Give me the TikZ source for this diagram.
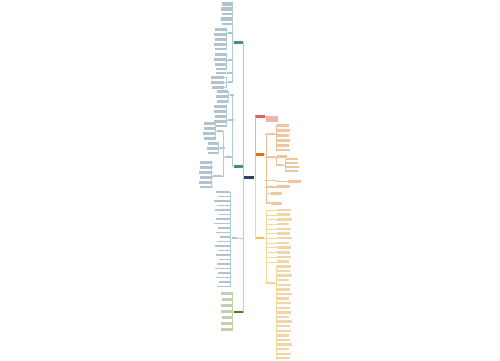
\documentclass[tikz,border=0pt]{standalone}
\definecolor{navy}{RGB}{44,68,98}
\definecolor{tealN}{RGB}{70,140,142}
\definecolor{greenN}{RGB}{78,118,36}
\definecolor{redN}{RGB}{228,92,92}
\definecolor{orangeN}{RGB}{214,116,34}
\definecolor{yellowN}{RGB}{238,196,76}
\definecolor{tealL}{RGB}{172,208,210}
\definecolor{greenL}{RGB}{190,214,160}
\definecolor{redL}{RGB}{240,170,170}
\definecolor{orangeL}{RGB}{240,192,146}
\definecolor{yellowL}{RGB}{240,218,150}
\definecolor{tealT}{RGB}{178,194,206}
\definecolor{greenT}{RGB}{192,208,176}
\definecolor{redT}{RGB}{236,182,172}
\definecolor{orangeT}{RGB}{238,198,160}
\definecolor{yellowT}{RGB}{238,214,168}
\tikzset{
  mm/.style={inner sep=0pt, minimum height=2.6pt, draw=none},
  lf/.style={fill=#1, inner sep=0pt, draw=none},
  subn/.style={fill=#1, inner sep=0pt, draw=none, minimum height=1.6pt},
  lk/.style={draw=#1, line width=0.35pt},
}
% parent, prefix, x-right, leaf colour, line colour, list y/w/h
\newcommand\mmL[6]{\foreach \yy/\ww/\hh [count=\i] in {#6}{%
  \node[lf=#4, minimum width=\ww pt, minimum height=\hh pt, anchor=east] (#2-\i) at (#3,\yy) {};
  \draw[lk=#5] (#1.west) -- ++(-1.5,0) |- (#2-\i.east);}}
\newcommand\mmR[6]{\foreach \yy/\ww/\hh [count=\i] in {#6}{%
  \node[lf=#4, minimum width=\ww pt, minimum height=\hh pt, anchor=west] (#2-\i) at (#3,\yy) {};
  \draw[lk=#5] (#1.east) -- ++(1.5,0) |- (#2-\i.west);}}
\begin{document}
\begin{tikzpicture}[x=1pt,y=-1pt]
\fill[white] (0,0) rectangle (500,360);
\useasboundingbox (0,0) rectangle (500,360);
% main nodes
\node[mm, fill=navy, minimum width=10pt, minimum height=3pt] (C) at (249,177) {};
\node[mm, fill=tealN, minimum width=9pt] (T1) at (238.5,42.5) {};
\node[mm, fill=tealN, minimum width=9pt] (T2) at (238,166.5) {};
\node[subn=tealT, minimum width=5pt] (P) at (234,238) {};
\node[mm, fill=greenN, minimum width=9pt] (G) at (238,312) {};
\node[mm, fill=redN, minimum width=10pt] (R) at (260,116.5) {};
\node[mm, fill=orangeN, minimum width=9pt] (O) at (259.5,154.5) {};
\node[mm, fill=yellowN, minimum width=9pt] (Y) at (259.5,238) {};
% trunks
\draw[lk=tealL] (C.west) -- ++(-1,0) |- (T1.east);
\draw[lk=tealL] (C.west) -- ++(-1,0) |- (T2.east);
\draw[lk=tealL] (C.west) -- ++(-1,0) |- (P.east);
\draw[lk=greenL] (C.west) -- ++(-1,0) |- (G.east);
\draw[lk=redL] (C.east) -- ++(1,0) |- (R.west);
\draw[lk=orangeL] (C.east) -- ++(1,0) |- (O.west);
\draw[lk=yellowL] (C.east) -- ++(1,0) |- (Y.west);
% ---- T1 branch
\mmL{T1}{ta}{233}{tealT}{tealL}{4/11/3.5, 9/12/3.5, 14/11/2, 19/12/3.5, 24/11/2}
\node[subn=tealT, minimum width=4pt] (T1a) at (230,33) {};
\node[subn=tealT, minimum width=4pt] (T1b) at (230,60) {};
\node[subn=tealT, minimum width=6pt] (T1c) at (230,73) {};
\node[subn=tealT, minimum width=5pt] (T1d) at (230.5,82) {};
\foreach \s in {T1a,T1b,T1c,T1d} \draw[lk=tealL] (T1.west) -- ++(-1.5,0) |- (\s.east);
\mmL{T1a}{tb}{227}{tealT}{tealL}{29/12/3, 34/13/3, 39/12/3, 44/13/3, 49/12/2}
\mmL{T1b}{tc}{227}{tealT}{tealL}{54/12/3, 59/13/3, 64/12/3, 69/11/2}
\mmL{T1c}{td}{226}{tealT}{tealL}{73/10/1.6}
\mmL{T1d}{te}{224}{tealT}{tealL}{77.5/13/2.5, 82/13/3, 87/12/3}
% ---- T2 branch
\node[subn=tealT, minimum width=4pt] (T2a) at (231.5,95) {};
\node[subn=tealT, minimum width=6pt] (T2b) at (231,120) {};
\node[subn=tealT, minimum width=8pt] (T2s) at (229,157) {};
\foreach \s in {T2a,T2b,T2s} \draw[lk=tealL] (T2.west) -- ++(-1.5,0) |- (\s.east);
\mmL{T2a}{ua}{228}{tealT}{tealL}{91/11/3, 96/12/3, 101/11/3}
\mmL{T2b}{ub}{227}{tealT}{tealL}{106/13/3, 111/13/3, 116/12/3, 121/13/3, 126/12/2}
\node[subn=tealT, minimum width=6pt] (T2c) at (220,131) {};
\node[subn=tealT, minimum width=5pt] (T2d) at (222.5,148) {};
\node[subn=tealT, minimum width=9pt] (T2e) at (217.5,176) {};
\foreach \s in {T2c,T2d,T2e} \draw[lk=tealL] (T2s.west) -- ++(-1.5,0) |- (\s.east);
\mmL{T2c}{uc}{216}{tealT}{tealL}{123/12/3, 128/12/3, 133/13/3, 138/12/3}
\mmL{T2d}{ud}{219}{tealT}{tealL}{143/11/3, 148/12/3, 153/11/2}
\mmL{T2e}{ue}{212.5}{tealT}{tealL}{162/12/3, 167/12/3, 172/13/3, 177/12/3, 182/13/3, 187/12/2}
% ---- P branch (single-line column)
\mmL{P}{pa}{230}{tealT}{tealL}{192/14/1.8, 196.5/12/1.8, 201/16/1.8, 205.5/13/1.8, 210/15/1.8, 214.5/11/1.8, 219/14/1.8, 223.5/16/1.8, 228/12/1.8, 232.5/14/1.8, 237/10/1.8, 241.5/13/1.8, 246/15/1.8, 250.5/12/1.8, 255/14/1.8, 259.5/11/1.8, 264/13/1.8, 268.5/15/1.8, 273/12/1.8, 277.5/14/1.8, 282/11/1.8, 286.5/13/1.8}
% ---- G branch
\mmL{G}{ga}{233}{greenT}{greenL}{293/12/3, 299/11/3, 305/12/3, 311/12/3, 317/11/3, 323/12/3, 329/12/3}
% ---- R branch
\mmR{R}{ra}{266}{redT}{redL}{119/12/5.5}
% ---- O branch
\node[subn=orangeT, minimum width=9pt] (O1) at (270,134) {};
\node[subn=orangeT, minimum width=9pt] (O2) at (270,157) {};
\node[subn=orangeT, minimum width=8pt] (O3) at (269.5,180.5) {};
\node[subn=orangeT, minimum width=9pt] (O4) at (270,187) {};
\node[subn=orangeT, minimum width=3pt] (O5) at (268,193.5) {};
\node[subn=orangeT, minimum width=3pt] (O6) at (268,203) {};
\foreach \s in {O1,O2,O3,O4,O5,O6} \draw[lk=orangeL] (O.east) -- ++(1.5,0) |- (\s.west);
\mmR{O1}{oa}{277}{orangeT}{orangeL}{125/12/3, 130/13/3, 135/12/3, 140/13/3, 145/12/3, 150/13/2}
\mmR{O2}{ob}{277}{orangeT}{orangeL}{156.5/10/2.5}
\node[subn=orangeT, minimum width=6pt] (O2x) at (280,165) {};
\draw[lk=orangeL] (O2.east) -- ++(1.5,0) |- (O2x.west);
\mmR{O2x}{oc}{286}{orangeT}{orangeL}{159/12/2.5, 163/12/2.5, 167/13/2.5, 171/12/2.5}
\mmR{O3}{od}{288}{orangeT}{orangeL}{181.5/13/3}
\mmR{O4}{oe}{277}{orangeT}{orangeL}{186.5/13/3}
\mmR{O5}{of}{271}{orangeT}{orangeL}{193.5/11/3}
\mmR{O6}{og}{271}{orangeT}{orangeL}{203/11/3}
% ---- Y branch
\mmR{Y}{ya}{277}{yellowT}{yellowL}{210/14/2.5, 214.7/13/2.5, 219.4/15/2.5, 224.1/12/2.5, 228.8/14/2.5, 233.5/13/2.5, 238.2/15/2.5, 242.9/12/2.5, 247.6/14/2.5, 252.3/13/2.5, 257/14/2.5, 261.7/12/2.5}
\node[subn=yellowT, minimum width=9pt] (Y2) at (270,283) {};
\draw[lk=yellowL] (Y.east) -- ++(1.5,0) |- (Y2.west);
\mmR{Y2}{yb}{276.5}{yellowT}{yellowL}{266.4/14/2.5, 271/13/2.5, 275.6/15/2.5, 280.2/12/2.5, 284.8/14/2.5, 289.4/13/2.5, 294/15/2.5, 298.6/12/2.5, 303.2/14/2.5, 307.8/13/2.5, 312.4/14/2.5, 317/12/2.5, 321.6/15/2.5, 326.2/13/2.5, 330.8/14/2.5, 335.4/12/2.5, 340/13/2.5, 344.6/15/2.5, 349.2/12/2.5, 353.8/14/2.5, 358/13/2.5}
\end{tikzpicture}
\end{document}
